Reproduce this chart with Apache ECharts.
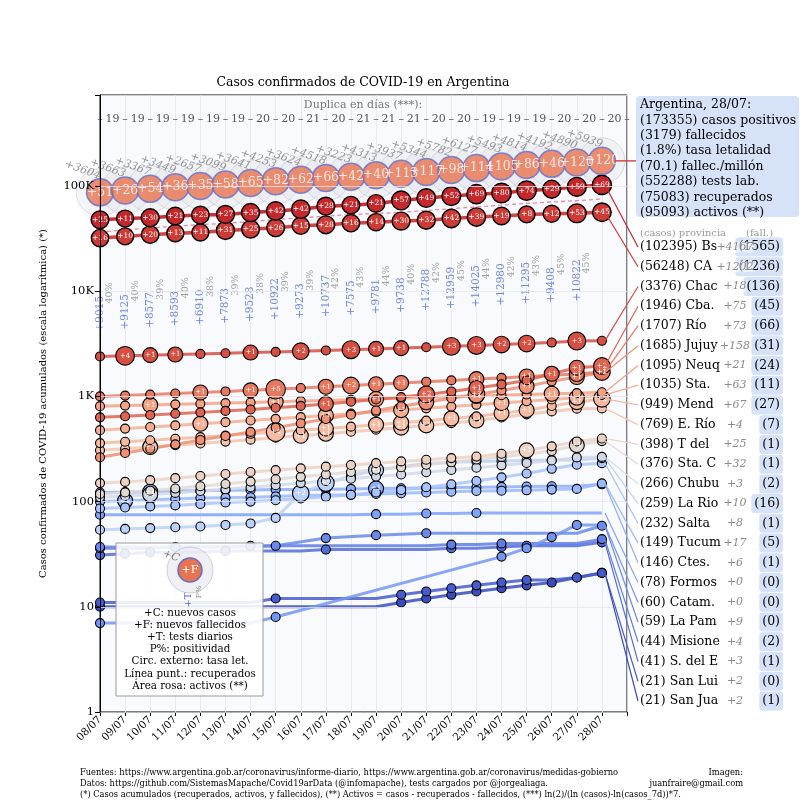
<!DOCTYPE html>
<html><head><meta charset="utf-8">
<script src="https://cdn.jsdelivr.net/npm/echarts@6.0.0/dist/echarts.min.js"></script>
<style>html,body{margin:0;padding:0;background:#fff;}#chart{width:800px;height:800px;}</style>
</head><body><div id="chart"></div>
<script>
// ---------------- DATA ----------------
const dates = ['08/07','09/07','10/07','11/07','12/07','13/07','14/07','15/07','16/07','17/07','18/07','19/07','20/07','21/07','22/07','23/07','24/07','25/07','26/07','27/07','28/07'];
const argCases = [87031,90694,94061,97510,100167,103266,106907,111160,114783,119301,122524,126837,130774,136118,141900,148027,153520,158334,162526,167416,173355];
const argNewCases = [3604,3663,3367,3449,2657,3099,3641,4253,3624,4518,3223,4313,3937,5344,5782,6127,5493,4814,4192,4890,5939];
const argDeaths = [1694,1720,1774,1810,1845,1903,1968,2050,2112,2178,2220,2260,2373,2490,2588,2702,2807,2893,2939,3059,3179];
const argNewDeaths = [51,26,54,36,35,58,65,82,62,66,42,40,113,117,98,114,105,86,46,120,120];
const argRecovered = [36500,38200,39900,41600,42900,44200,46000,47900,49800,51700,53600,54600,56300,58400,60900,63400,65700,68300,70500,72600,75083];
const testsDaily = [9015,9125,8577,8593,6910,7873,9528,10922,9273,10737,7575,9781,9738,12788,12959,14025,12980,11295,9408,10822];
const positivity = [40,40,39,40,38,39,38,39,39,42,43,44,40,42,45,44,42,43,45,45];
const doubling = [19,19,19,19,19,19,20,20,21,20,21,21,21,20,20,19,19,19,20,20,20];
const argTestsTotal = 552288;
const argDeathsPerMillion = 70.1;

const bsasCases = [47800,49000,49900,51800,52900,53700,55900,57900,60200,64300,65800,68300,72900,76900,80200,83600,85800,90400,93200,98228,102395];
const bsasNewDeaths = [25,11,30,21,23,27,35,42,42,28,21,21,57,49,52,69,80,74,29,59,69];
const cabaCases = [32000,33200,34500,35600,36200,37800,38800,40100,41900,42800,44300,45300,46400,47300,49100,50700,51900,53700,54400,55046,56248];
const cabaNewDeaths = [16,10,20,13,11,31,25,26,15,28,16,14,30,32,42,39,19,8,12,53,45];
const chacoCases = [2398,2432,2468,2500,2536,2570,2610,2650,2690,2735,2780,2830,2880,2930,2990,3050,3110,3180,3250,3358,3376];
const chacoNewDeaths = [0,4,1,1,0,0,1,0,2,0,3,1,1,0,3,3,2,2,0,3,0];
const cbaCases = [632,648,665,684,705,728,752,780,812,848,890,935,985,1045,1115,1200,1300,1420,1640,1871,1946];
const cbaNewDeaths = [0,0,0,0,0,0,0,0,0,1,0,0,0,2,0,1,0,0,1,1,2];
const rioNegroCases = [1000,1018,1040,1065,1090,1115,1142,1170,1200,1235,1270,1305,1340,1380,1420,1460,1500,1545,1590,1634,1707];
const rioNegroNewDeaths = [0,0,0,0,1,0,1,5,0,1,2,1,1,0,0,1,0,1,0,1,2];
const jujuyCases = [264,290,318,350,385,420,460,505,555,610,670,735,805,880,960,1045,1140,1250,1390,1527,1685];
const jujuyNewDeaths = [0,0,0,0,0,0,0,0,0,0,0,0,0,1,0,2,0,1,0,1,1];
const neuquenCases = [808,818,829,840,852,864,876,889,902,916,930,945,960,976,992,1008,1025,1042,1060,1074,1095];
const neuquenNewDeaths = [0,0,1,0,0,0,0,1,0,0,0,1,0,0,0,1,0,0,1,0,0];
const staFeCases = [478,494,512,530,549,569,590,612,635,660,686,713,741,770,800,832,865,900,935,972,1035];
const staFeNewDeaths = [0,0,0,0,1,0,0,0,0,1,0,0,1,0,0,0,1,0,0,1,0];
const mendozaCases = [360,371,383,396,410,425,441,458,476,495,516,538,562,588,616,646,690,740,810,882,949];
const mendozaNewDeaths = [0,0,0,0,0,0,0,4,0,1,0,1,1,0,1,0,1,1,0,1,2];
const entreRiosCases = [308,318,330,343,357,372,388,405,423,442,462,483,505,530,557,590,630,675,720,765,769];
const entreRiosNewDeaths = [0,0,1,0,0,0,0,0,1,1,0,0,1,1,0,1,0,0,0,0,0];
const tdfCases = [150,154,160,167,175,183,191,199,207,215,223,232,241,250,259,268,285,307,335,373,398];
const tdfNewDeaths = [0,0,0,0,0,0,0,0,0,0,0,0,0,0,0,0,0,1,0,0,0];
const staCruzCases = [118,122,127,133,140,147,155,163,172,181,191,201,212,224,237,251,266,283,303,344,376];
const staCruzNewDeaths = [0,0,0,0,0,0,0,0,0,0,0,0,0,0,0,0,0,0,0,1,0];
const chubutCases = [110,113,117,121,126,131,137,143,150,157,165,173,181,190,200,210,221,233,246,263,266];
const chubutNewDeaths = [0,0,1,0,0,0,0,0,0,0,0,0,0,0,0,0,0,0,0,0,0];
const laRiojaCases = [54,55,56,57,58,60,62,70,120,150,175,200,215,230,236,240,243,246,249,249,259];
const laRiojaNewDeaths = [0,0,0,0,0,0,0,0,2,2,0,1,0,0,0,0,0,0,0,0,0];
const saltaCases = [86,88,90,92,95,98,100,103,107,111,116,122,129,137,146,157,170,185,205,224,232];
const tucumanCases = [100,102,104,106,108,109,110,112,114,115,116,118,120,122,124,126,127,128,130,132,149];
const tucumanNewDeaths = [0,1,0,0,0,0,0,0,0,0,0,0,0,0,0,0,0,0,0,0,0];
const ctesCases = [122,123,124,126,127,128,129,130,130,131,132,133,134,135,136,137,138,139,140,140,146];
const ctesNewDeaths = [0,0,1,0,0,0,0,0,0,0,0,1,0,0,0,0,0,0,0,0,0];
const formosaCases = [75,75,75,75,75,75,75,75,75,75,75,76,76,77,77,78,78,78,78,78,78];
const catamarcaCases = [7,7,7,7,7,7,7,8,null,null,null,null,null,null,null,null,30,36,46,60,60];
const laPampaCases = [37,37,37,37,37,37,37,38,null,45,null,48,null,50,50,50,50,50,50,50,59];
const misionesCases = [36,36,36,37,37,37,38,38,38,38,38,38,38,38,39,39,40,40,40,40,44];
const sdeCases = [31,32,33,33,33,34,34,34,34,35,35,35,35,35,36,36,37,38,38,38,41];
const sdeNewDeaths = [0,0,0,0,0,0,0,0,0,0,0,0,0,1,0,0,0,0,0,0,0];
const sanLuisCases = [11,11,11,11,11,11,11,12,12,12,12,12,13,14,15,16,17,18,18,19,21];
const sanJuanCases = [10,10,10,10,10,10,10,10,10,10,10,10,11,12,13,14,15,16,17,19,21];
const noDeaths = [0,0,0,0,0,0,0,0,0,0,0,0,0,0,0,0,0,0,0,0,0];

const labelNames = ['Bs.As.','CABA','Chaco','Cba.','Río Negro','Jujuy','Neuquén','Sta. Fe','Mendoza','E. Ríos','T del Fuego','Sta. Cruz','Chubut','La Rioja','Salta','Tucumán','Ctes.','Formosa','Catam.','La Pampa','Misiones','S. del E.','San Luis','San Juan'];
const labelNewCases = [4167,1202,18,75,73,158,21,63,67,4,25,32,3,10,8,17,6,0,0,9,4,3,2,2];
const labelDeaths = [1565,1236,136,45,66,31,24,11,27,7,1,1,2,16,1,5,1,0,0,0,2,1,0,1];

const provCases = [bsasCases,cabaCases,chacoCases,cbaCases,rioNegroCases,jujuyCases,neuquenCases,staFeCases,mendozaCases,entreRiosCases,tdfCases,staCruzCases,chubutCases,laRiojaCases,saltaCases,tucumanCases,ctesCases,formosaCases,catamarcaCases,laPampaCases,misionesCases,sdeCases,sanLuisCases,sanJuanCases];
const provDeaths = [bsasNewDeaths,cabaNewDeaths,chacoNewDeaths,cbaNewDeaths,rioNegroNewDeaths,jujuyNewDeaths,neuquenNewDeaths,staFeNewDeaths,mendozaNewDeaths,entreRiosNewDeaths,tdfNewDeaths,staCruzNewDeaths,chubutNewDeaths,laRiojaNewDeaths,noDeaths,tucumanNewDeaths,ctesNewDeaths,noDeaths,noDeaths,noDeaths,noDeaths,sdeNewDeaths,noDeaths,noDeaths];

// ---------------- STYLE HELPERS ----------------
const SERIF = '"DejaVu Serif", serif';
const font = (size, style) => (style ? style + ' ' : '') + size + 'px ' + SERIF;
const CW = [[0,[59,76,192]],[0.125,[94,123,226]],[0.25,[124,159,249]],[0.375,[162,193,255]],[0.4375,[188,210,247]],[0.5,[221,221,221]],[0.5625,[237,210,196]],[0.625,[245,193,168]],[0.75,[245,159,128]],[0.875,[222,96,77]],[1,[196,40,44]]];
function coolwarm(t){
  for (let k=1;k<CW.length;k++){
    if (t <= CW[k][0]) {
      const t0=CW[k-1][0], c0=CW[k-1][1], t1=CW[k][0], c1=CW[k][1];
      const f=(t-t0)/(t1-t0);
      return 'rgb('+c0.map((c,j)=>Math.round(c+(c1[j]-c)*f)).join(',')+')';
    }
  }
  return 'rgb(196,40,44)';
}
const XY = arr => arr.map((v,i)=>[i, v==null ? '-' : v]);
function isShown(arr, i){
  if (arr[i]==null) return false;
  if (i===0) return true;
  for (let k=i-1;k>=0;k--) if (arr[k]!=null) return arr[i] > arr[k];
  return true;
}

// ---------------- SERIES ----------------
const series = [];
series.push({type:'line', name:'recuperados', data:XY(argRecovered), symbol:'none',
  lineStyle:{type:[4,3], color:'#e58ba0', width:1.3}, z:2, silent:true});
series.push({type:'scatter', name:'letalidad', data:XY(argCases),
  symbolSize:(v,p)=>46*Math.sqrt(argDeaths[p.dataIndex]/argCases[p.dataIndex]/0.0183),
  itemStyle:{color:'rgba(226,226,233,0.45)', borderColor:'rgba(170,172,200,0.5)', borderWidth:1}, z:3, silent:true});

for (let r = provCases.length-1; r >= 0; r--) {
  const cases = provCases[r], deaths = provDeaths[r];
  const col = coolwarm(1 - r/23);
  const big = r < 2;
  series.push({type:'line', name:labelNames[r], data:XY(cases), connectNulls:true, showAllSymbol:true,
    symbol:(v,p)=> isShown(cases,p.dataIndex) ? 'circle' : 'none',
    symbolSize:(v,p)=>{ const d = deaths[p.dataIndex]; return big ? 15.5 + 0.45*Math.sqrt(d) : (d>0 ? 9 + 6*Math.pow(d,0.35) : 9); },
    lineStyle:{color:col, width: big ? 3.5 : 3, opacity: big ? 0.95 : 0.85},
    itemStyle:{color:col, borderColor:'#000', borderWidth: big ? 1.4 : 1.1},
    label:{show:true, position:'inside', formatter:p=> deaths[p.dataIndex]>0 && isShown(cases,p.dataIndex) ? '+'+deaths[p.dataIndex] : '',
      color:'#fff', fontSize: big ? 7.5 : 7, fontFamily:SERIF},
    z: big ? 5 : 4, silent:true});
}

series.push({type:'scatter', name:'Argentina', data:XY(argCases), symbolSize:27,
  itemStyle:{color:'#e8734f', borderColor:'#5d6fd4', borderWidth:1.5},
  label:{show:true, position:'inside', formatter:p=>'+'+argNewDeaths[p.dataIndex], color:'#fff', fontSize:12.5, fontFamily:SERIF},
  z:6, silent:true});
series.push({type:'scatter', name:'nuevos', data:XY(argCases), symbolSize:1, itemStyle:{color:'rgba(0,0,0,0)'},
  label:{show:true, position:'inside', offset:[-24,-15], rotate:-20, formatter:p=>'+'+argNewCases[p.dataIndex],
    color:'#7a7a7a', fontSize:11, fontStyle:'italic', fontFamily:SERIF},
  z:7, silent:true});
series.push({type:'scatter', name:'tests', data:testsDaily.map((t,i)=>[i, argCases[i]/21]), symbolSize:1, itemStyle:{color:'rgba(0,0,0,0)'},
  label:{show:true, position:'inside', rotate:90, align:'left', verticalAlign:'middle', formatter:p=>'+'+testsDaily[p.dataIndex],
    color:'#4a6ad8', fontSize:10.5, fontFamily:SERIF},
  z:5, silent:true});
series.push({type:'scatter', name:'positividad', data:testsDaily.map((t,i)=>[i, argCases[i]/21]), symbolSize:1, itemStyle:{color:'rgba(0,0,0,0)'},
  label:{show:true, position:'inside', offset:[28,10], rotate:90, align:'left', verticalAlign:'middle', formatter:p=>positivity[p.dataIndex]+'%',
    color:'#8a8a8a', fontSize:9.5, fontFamily:SERIF},
  z:5, silent:true});

const decadeLabels = ['1','10','100','1K','10K','100K'];
const option = {
  animation:false,
  backgroundColor:'#ffffff',
  grid:{left:100, right:173, top:95, bottom:88, show:true, borderColor:'#000', borderWidth:1, backgroundColor:'#f9fafd', containLabel:false, outerBoundsMode:'none'},
  xAxis:[
    {type:'value', min:0, max:21, interval:1, position:'bottom',
     axisLine:{show:true, lineStyle:{color:'#000', width:1}}, axisTick:{show:true, length:4, lineStyle:{color:'#000'}},
     axisLabel:{formatter:v=>dates[v]||'', rotate:45, fontSize:10.5, fontFamily:SERIF, color:'#000', margin:6, hideOverlap:false, showMinLabel:true, showMaxLabel:true},
     splitLine:{show:true, lineStyle:{color:'#e3e5ee', width:0.8}}},
    {type:'value', min:0, max:21, interval:0.5, position:'top',
     axisLine:{show:false}, axisTick:{show:false}, splitLine:{show:false},
     axisLabel:{inside:true, margin:19, formatter:v=> Number.isInteger(v) ? '–' : String(doubling[Math.floor(v)]),
       fontSize:11, fontFamily:SERIF, color:'#555', showMinLabel:true, showMaxLabel:true, hideOverlap:false}}
  ],
  yAxis:{type:'log', logBase:10, min:1, max:733000, z:10,
    name:'Casos confirmados de COVID-19 acumulados (escala logarítmica) (*)', nameLocation:'middle', nameGap:52,
    nameTextStyle:{fontSize:10, fontFamily:SERIF, color:'#000'},
    axisLine:{show:true, lineStyle:{color:'#000'}}, axisTick:{show:true, length:5, lineStyle:{color:'#000'}},
    axisLabel:{formatter:v=>{const e=Math.log10(v), k=Math.round(e); return Math.abs(e-k)<1e-6 ? (decadeLabels[k]||'') : '';},
      fontSize:11.5, fontFamily:SERIF, color:'#000', margin:6, hideOverlap:false},
    splitLine:{show:true, lineStyle:{color:'#e3e5ee', width:0.8}}},
  series
};

const chart = echarts.init(document.getElementById('chart'), null, {renderer:'canvas', width:800, height:800});
chart.setOption(option);

// ---------------- GRAPHICS ----------------
function T(x, y, text, f, fill, align, extra){
  extra = extra || {};
  const el = {type:'text', x, y, z:100, silent:true,
    style:Object.assign({text, font:f, fill, align:align||'left', verticalAlign:'middle', textAlign:align||'left', textVerticalAlign:'middle'}, extra.style||{})};
  if (extra.rotation != null) el.rotation = extra.rotation;
  return el;
}
const g = [];
g.push(T(363, 83, 'Casos confirmados de COVID-19 en Argentina', font(12.5), '#000', 'center'));
g.push(T(363, 105, 'Duplica en días (***):', font(11), '#777', 'center'));
// footer
g.push(T(80, 773, 'Fuentes: https://www.argentina.gob.ar/coronavirus/informe-diario, https://www.argentina.gob.ar/coronavirus/medidas-gobierno', font(8.3), '#000'));
g.push(T(80, 784, 'Datos: https://github.com/SistemasMapache/Covid19arData (@infomapache), tests cargados por @jorgealiaga.', font(8.3), '#000'));
g.push(T(80, 795, '(*) Casos acumulados (recuperados, activos, y fallecidos), (**) Activos = casos - recuperados - fallecidos, (***) ln(2)/(ln (casos)-ln(casos_7d))*7.', font(8.3), '#000'));
g.push(T(743, 773, 'Imagen:', font(8.3), '#000', 'right'));
g.push(T(743, 784, 'juanfraire@gmail.com', font(8.3), '#000', 'right'));
// legend box
g.push({type:'rect', z:99, silent:true, shape:{x:116, y:543, width:147, height:153}, style:{fill:'rgba(255,255,255,0.88)', stroke:'#9a9a9a', lineWidth:1}});
g.push({type:'circle', z:100, silent:true, shape:{cx:190, cy:570, r:23}, style:{fill:'rgba(226,226,233,0.5)', stroke:'rgba(170,172,200,0.55)', lineWidth:1}});
g.push({type:'circle', z:100, silent:true, shape:{cx:190, cy:570, r:12}, style:{fill:'#e8734f', stroke:'#5d6fd4', lineWidth:1.5}});
g.push(T(190, 570, '+F', font(11), '#fff', 'center'));
g.push(T(171, 556, '+C', font(10.5,'italic'), '#7a7a7a', 'center', {rotation:-0.35}));
g.push(T(188, 600, '+T', font(10), '#4a6ad8', 'center', {rotation:Math.PI/2}));
g.push(T(199, 592, 'P%', font(8), '#8a8a8a', 'center', {rotation:Math.PI/2}));
['+C: nuevos casos','+F: nuevos fallecidos','+T: tests diarios','P%: positividad','Circ. externo: tasa let.','Línea punt.: recuperados','Área rosa: activos (**)']
  .forEach((s,k)=>g.push(T(190, 613 + k*12.2, s, font(10.3), '#000', 'center')));

// Argentina info box
const last = argCases.length-1;
const argPt = chart.convertToPixel({xAxisIndex:0, yAxisIndex:0}, [last, argCases[last]]);
g.push({type:'line', z:98, silent:true, shape:{x1:argPt[0]+13, y1:argPt[1], x2:636, y2:argPt[1]}, style:{stroke:'#d03030', lineWidth:1.3}});
g.push({type:'rect', z:99, silent:true, shape:{x:636, y:96, width:163, height:121, r:4}, style:{fill:'#d6e2f8'}});
const active = argCases[last]-argRecovered[last]-argDeaths[last];
const boxLines = [
  'Argentina, ' + dates[last] + ':',
  '(' + argCases[last] + ') casos positivos',
  '(' + argDeaths[last] + ') fallecidos',
  '(' + (100*argDeaths[last]/argCases[last]).toFixed(1) + '%) tasa letalidad',
  '(' + argDeathsPerMillion.toFixed(1) + ') fallec./millón',
  '(' + argTestsTotal + ') tests lab.',
  '(' + argRecovered[last] + ') recuperados',
  '(' + active + ') activos (**)'
];
boxLines.forEach((s,k)=>g.push(T(640, 105 + k*15.4, s, font(12.5), '#000')));

// province labels
g.push(T(640, 233, '(casos) provincia', font(10), '#999'));
g.push(T(746, 233, '(fall.)', font(10), '#999'));
provCases.forEach((cases, r) => {
  const y = 247 + r*19.74;
  const col = coolwarm(1 - r/23);
  const pt = chart.convertToPixel({xAxisIndex:0, yAxisIndex:0}, [last, cases[last]]);
  g.push({type:'line', z:98, silent:true, shape:{x1:pt[0]+3, y1:pt[1], x2:638, y2:y}, style:{stroke:col, lineWidth:1.2}});
  g.push(T(640, y, '(' + cases[last] + ') ' + labelNames[r], font(12.5), '#000', 'left', {style:{width:82, overflow:'truncate', ellipsis:''}}));
  g.push(T(783, y, '(' + labelDeaths[r] + ')', font(12.5), '#000', 'right', {style:{backgroundColor:'#d6e2f8', padding:[3,3,3,3], borderRadius:3}}));
  g.push(T(735, y, '+' + labelNewCases[r], font(11,'italic'), '#8a8a8a', 'center', {style:{backgroundColor:'rgba(255,255,255,0.5)'}}));
});

chart.setOption({graphic:{elements:g}});
</script></body></html>
